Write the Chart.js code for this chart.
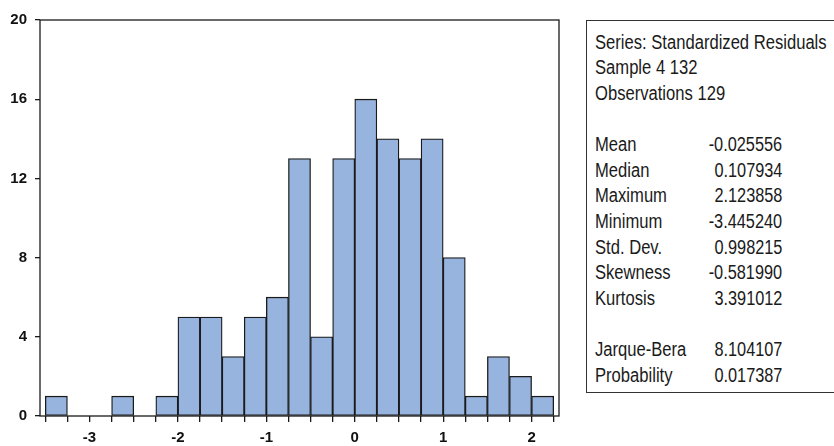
<!DOCTYPE html>
<html><head><meta charset="utf-8">
<script src="https://cdn.jsdelivr.net/npm/chart.js@4/dist/chart.umd.min.js"></script>
<style>
html,body{margin:0;padding:0;background:#fff;}
#wrap{position:relative;width:834px;height:446px;overflow:hidden;}
#c{position:absolute;left:0;top:0;}
#stats{position:absolute;left:586px;top:20px;width:300px;height:373px;border:1px solid #333;box-sizing:border-box;background:#fff;
 font-family:"Liberation Sans",Arial,sans-serif;font-size:20px;color:#1a1a1a;padding-top:8.8px;}
.ln{position:relative;height:25.6px;line-height:25.6px;white-space:nowrap;padding-left:8px;}
.lab{display:inline-block;transform:scaleX(0.83);transform-origin:0 50%;}
.val{position:absolute;right:103px;top:0;transform:scaleX(0.815);transform-origin:100% 50%;}
</style>
</head><body>
<div id="wrap">
<canvas id="c" width="834" height="446"></canvas>
<div id="stats"></div>
</div>
<script>
// Histogram bin centres (bin width 0.25, from -3.5 to 2.25)
const binCenters = [-3.375,-3.125,-2.875,-2.625,-2.375,-2.125,-1.875,-1.625,-1.375,-1.125,-0.875,-0.625,-0.375,-0.125,0.125,0.375,0.625,0.875,1.125,1.375,1.625,1.875,2.125];
const counts     = [1,0,0,1,0,1,5,5,3,5,6,13,4,13,16,14,13,14,8,1,3,2,1];
const yTicks = [0,4,8,12,16,20];
const xTickLabels = [-3,-2,-1,0,1,2];

const headerLines = ["Series: Standardized Residuals","Sample 4 132","Observations 129"];
const statLabels1 = ["Mean","Median","Maximum","Minimum","Std. Dev.","Skewness","Kurtosis"];
const statValues1 = ["-0.025556","0.107934","2.123858","-3.445240","0.998215","-0.581990","3.391012"];
const statLabels2 = ["Jarque-Bera","Probability"];
const statValues2 = ["8.104107","0.017387"];

// stats panel (real text)
const box = document.getElementById('stats');
function addLine(label, value){
  const d = document.createElement('div'); d.className='ln';
  const l = document.createElement('span'); l.className='lab'; l.textContent = label || '\u00a0';
  d.appendChild(l);
  if (value !== undefined){ const v=document.createElement('span'); v.className='val'; v.textContent=value; d.appendChild(v); }
  box.appendChild(d);
}
headerLines.forEach(h=>addLine(h));
addLine('');
statLabels1.forEach((l,i)=>addLine(l, statValues1[i]));
addLine('');
statLabels2.forEach((l,i)=>addLine(l, statValues2[i]));

const frame = {
  id:'frame',
  afterDatasetsDraw(chart){
    const a = chart.chartArea, ctx = chart.ctx;
    ctx.save(); ctx.strokeStyle='#1a1a1a'; ctx.lineWidth=1.3;
    ctx.strokeRect(a.left, a.top, a.right-a.left, a.bottom-a.top);
    ctx.restore();
  }
};

const tickFont = {family:"'Liberation Sans', Arial, sans-serif", size:15, weight:'bold'};
new Chart(document.getElementById('c'), {
  type:'bar',
  data:{
    labels: binCenters,
    datasets:[{
      data: binCenters.map((x,i)=>({x:x, y:counts[i]})),
      backgroundColor:'#96b4de',
      borderColor:'#1a1a1a',
      borderWidth:1.3,
      borderSkipped:false,
      barPercentage:1.0,
      categoryPercentage:1.0
    }]
  },
  options:{
    responsive:false, animation:false,
    devicePixelRatio:1,
    layout:{padding:{top:20,right:275,left:0,bottom:0}},
    plugins:{legend:{display:false},tooltip:{enabled:false}},
    scales:{
      x:{
        type:'linear', min:-3.56, max:2.31, offset:false,
        afterFit:(s)=>{ s.height = 30; },
        border:{display:false},
        grid:{drawOnChartArea:false, drawTicks:true, tickLength:6, color:'#1a1a1a', lineWidth:1.3, offset:false},
        ticks:{stepSize:0.25, includeBounds:false, autoSkip:false, maxRotation:0, padding:7, color:'#111', font:tickFont,
          callback:(v)=>{ const r=Math.round(v); return (Math.abs(v-r)<1e-6 && xTickLabels.includes(r)) ? String(r) : ''; }}
      },
      y:{
        min:0, max:20,
        afterFit:(s)=>{ s.width = 40; },
        border:{display:false},
        grid:{drawOnChartArea:false, drawTicks:true, tickLength:5, color:'#1a1a1a', lineWidth:1.3},
        ticks:{stepSize:4, padding:8, color:'#111', font:tickFont,
          callback:(v)=> yTicks.includes(v) ? String(v) : ''}
      }
    }
  },
  plugins:[frame]
});
</script>
</body></html>
